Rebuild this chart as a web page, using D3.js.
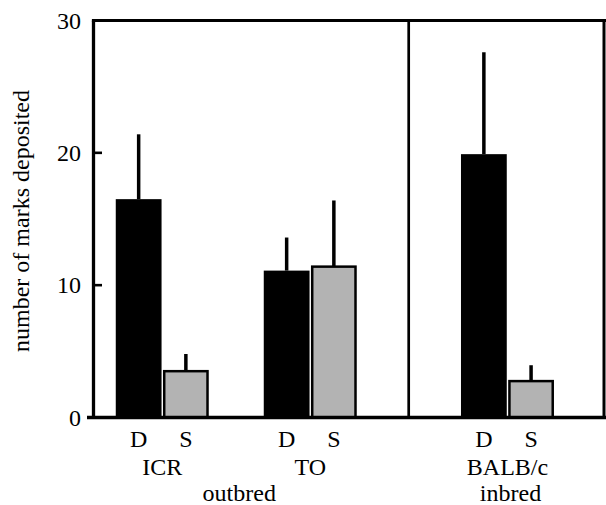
<!DOCTYPE html>
<html>
<head>
<meta charset="utf-8">
<script src="https://cdn.jsdelivr.net/npm/d3@7"></script>
<style>
  html, body { margin: 0; padding: 0; background: #fff; }
  svg { display: block; }
  text { font-family: "Liberation Serif", "Times New Roman", serif; fill: #000; }
</style>
</head>
<body>
<svg id="chart" width="606" height="505"></svg>
<script>
// ---- data ----
const strains = ["ICR", "TO", "BALB/c"];
const strainPanel = ["outbred", "outbred", "inbred"];
const panels = ["outbred", "inbred"];
const conditions = ["D", "S"];
const meanD = [16.5, 11.1, 19.9];
const meanS = [3.5, 11.4, 2.75];
const errD = [4.9, 2.5, 7.7];
const errS = [1.3, 5.0, 1.2];
const yTicks = [0, 10, 20, 30];
const yTitle = "number of marks deposited";

(function () {
// ---- layout ----
const svg = d3.select("#chart");
const pLeft = 93.5, pRight = 604, pTop = 20.5, pBottom = 417.5, divider = 408.7;

const y = d3.scaleLinear().domain([0, 30]).range([pBottom, pTop]);

const panelScales = {
  outbred: d3.scaleBand()
    .domain(strains.filter((s, i) => strainPanel[i] === "outbred"))
    .range([pLeft, divider]).paddingInner(0.3716).paddingOuter(0.2507).align(0.30),
  inbred: d3.scaleBand()
    .domain(strains.filter((s, i) => strainPanel[i] === "inbred"))
    .range([divider, pRight]).paddingInner(0).paddingOuter(0.55).align(0.511)
};
const xg = s => panelScales[strainPanel[strains.indexOf(s)]](s);
const bw = panelScales.outbred.bandwidth();
const xc = d3.scaleBand().domain(conditions).range([0, bw]).paddingInner(0.03);

const rows = [];
strains.forEach((s, i) => {
  rows.push({ strain: s, cond: "D", mean: meanD[i], err: errD[i] });
  rows.push({ strain: s, cond: "S", mean: meanS[i], err: errS[i] });
});

// bars
const g = svg.append("g");
g.selectAll("rect.bar").data(rows).join("rect")
  .attr("class", "bar")
  .attr("x", d => xg(d.strain) + xc(d.cond) + (d.cond === "S" ? 1.25 : 0))
  .attr("width", d => xc.bandwidth() - (d.cond === "S" ? 2.5 : 0))
  .attr("y", d => y(d.mean))
  .attr("height", d => y(0) - y(d.mean))
  .attr("fill", d => d.cond === "D" ? "#000" : "#b3b3b3")
  .attr("stroke", d => d.cond === "D" ? "none" : "#000")
  .attr("stroke-width", 2.5);

// error bars (upper only)
g.selectAll("line.err").data(rows).join("line")
  .attr("class", "err")
  .attr("x1", d => xg(d.strain) + xc(d.cond) + xc.bandwidth() / 2)
  .attr("x2", d => xg(d.strain) + xc(d.cond) + xc.bandwidth() / 2)
  .attr("y1", d => y(d.mean))
  .attr("y2", d => y(d.mean + d.err))
  .attr("stroke", "#000").attr("stroke-width", 3.5);

// frame
const frame = svg.append("g").attr("stroke", "#000").attr("fill", "none");
frame.append("line").attr("x1", pLeft).attr("x2", pLeft).attr("y1", pTop).attr("y2", pBottom).attr("stroke-width", 3.3);
frame.append("line").attr("x1", pLeft - 1.6).attr("x2", 606).attr("y1", pTop).attr("y2", pTop).attr("stroke-width", 3);
frame.append("line").attr("x1", pRight).attr("x2", pRight).attr("y1", pTop).attr("y2", pBottom).attr("stroke-width", 3);
frame.append("line").attr("x1", divider).attr("x2", divider).attr("y1", pTop).attr("y2", pBottom).attr("stroke-width", 2.7);
frame.append("line").attr("x1", 87).attr("x2", 606).attr("y1", pBottom).attr("y2", pBottom).attr("stroke-width", 3.4);

// y axis ticks and labels
const yAxis = d3.axisLeft(y).tickValues(yTicks).tickSize(0).tickPadding(0);
const ya = svg.append("g").attr("transform", `translate(81,0)`).call(yAxis);
ya.select(".domain").remove();
ya.selectAll("text").attr("font-size", 24).attr("font-family", "Liberation Serif").attr("dy", "0.32em").attr("x", 0);
svg.selectAll("line.ytick").data(yTicks.filter(t => t > 0 && t < 30)).join("line")
  .attr("class", "ytick")
  .attr("x1", pLeft).attr("x2", pLeft + 8.5)
  .attr("y1", d => y(d)).attr("y2", d => y(d))
  .attr("stroke", "#000").attr("stroke-width", 2.6);

// y title
svg.append("text")
  .attr("transform", `translate(29,${(pTop + pBottom) / 2 + 2}) rotate(-90)`)
  .attr("text-anchor", "middle").attr("font-size", 24)
  .text(yTitle);

// x labels: conditions
svg.selectAll("text.cond").data(rows).join("text")
  .attr("class", "cond")
  .attr("x", d => xg(d.strain) + xc(d.cond) + xc.bandwidth() / 2)
  .attr("y", 447).attr("text-anchor", "middle").attr("font-size", 24)
  .text(d => d.cond);

// strain labels
svg.selectAll("text.strain").data(strains).join("text")
  .attr("class", "strain")
  .attr("x", s => xg(s) + bw / 2)
  .attr("y", 475).attr("text-anchor", "middle").attr("font-size", 24)
  .text(s => s);

// panel labels
svg.selectAll("text.panel").data(panels).join("text")
  .attr("class", "panel")
  .attr("x", p => {
    const sc = panelScales[p];
    return d3.mean(sc.domain(), s => sc(s) + bw / 2) + 3;
  })
  .attr("y", 501).attr("text-anchor", "middle").attr("font-size", 24)
  .text(p => p);
})();
</script>
</body>
</html>
